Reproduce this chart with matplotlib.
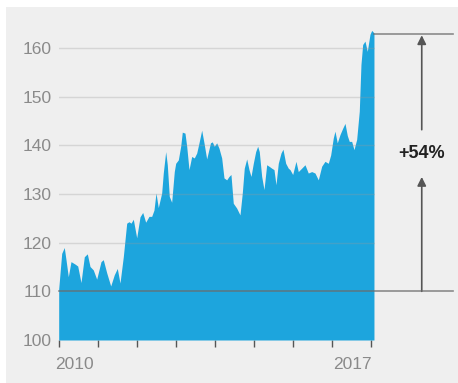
import matplotlib
matplotlib.use("Agg")
import matplotlib.pyplot as plt
from matplotlib.patches import Rectangle

plt.rcParams['font.family'] = ['Liberation Sans', 'DejaVu Sans']

# ---- data (decimal years, index values) ----
years = [2010.000, 2010.077, 2010.143, 2010.187, 2010.246, 2010.315, 2010.418, 2010.487,
         2010.571, 2010.656, 2010.733, 2010.802, 2010.886, 2010.973, 2011.084, 2011.142,
         2011.230, 2011.332, 2011.424, 2011.501, 2011.570, 2011.655, 2011.742, 2011.801,
         2011.852, 2011.911, 2011.998, 2012.083, 2012.152, 2012.228, 2012.313, 2012.382,
         2012.441, 2012.492, 2012.551, 2012.638, 2012.679, 2012.741, 2012.782, 2012.833,
         2012.894, 2012.961, 2012.997, 2013.064, 2013.125, 2013.166, 2013.235, 2013.279,
         2013.338, 2013.407, 2013.473, 2013.535, 2013.594, 2013.663, 2013.722, 2013.791,
         2013.888, 2013.934, 2013.986, 2014.047, 2014.106, 2014.175, 2014.234, 2014.303,
         2014.362, 2014.413, 2014.472, 2014.559, 2014.644, 2014.703, 2014.754, 2014.816,
         2014.875, 2014.926, 2014.985, 2015.046, 2015.097, 2015.138, 2015.200, 2015.259,
         2015.328, 2015.387, 2015.456, 2015.515, 2015.566, 2015.625, 2015.694, 2015.745,
         2015.815, 2015.881, 2015.925, 2015.994, 2016.078, 2016.137, 2016.224, 2016.309,
         2016.393, 2016.481, 2016.565, 2016.650, 2016.737, 2016.821, 2016.906, 2016.967,
         2017.034, 2017.077, 2017.136, 2017.206, 2017.275, 2017.334, 2017.393, 2017.444,
         2017.505, 2017.564, 2017.633, 2017.700, 2017.743, 2017.787, 2017.846, 2017.905,
         2017.974, 2018.018, 2018.076]
values = [110.5, 117.8, 119.0, 116.5, 113.0, 116.1, 115.6, 115.2,
          111.8, 117.1, 117.7, 115.1, 114.4, 112.5, 116.1, 116.5,
          113.8, 111.1, 113.4, 114.7, 111.7, 117.1, 124.0, 124.3,
          124.0, 124.8, 121.0, 125.3, 126.2, 124.2, 125.4, 125.4,
          126.7, 130.2, 127.2, 130.2, 134.3, 138.7, 136.0, 129.5,
          128.3, 134.6, 136.3, 137.0, 139.8, 142.7, 142.5, 139.8,
          135.0, 137.7, 137.4, 138.4, 140.5, 143.1, 140.5, 137.2,
          140.5, 140.7, 139.8, 140.5, 139.4, 137.4, 133.3, 132.9,
          133.6, 134.0, 128.1, 127.1, 125.7, 130.2, 135.3, 137.2,
          135.0, 133.6, 136.3, 138.7, 139.8, 138.7, 133.6, 130.9,
          136.0, 135.7, 135.3, 135.0, 131.9, 136.3, 138.4, 139.2,
          136.3, 135.3, 135.0, 134.0, 136.7, 134.6, 135.3, 136.0,
          134.3, 134.6, 134.3, 132.9, 135.7, 136.7, 136.3, 138.0,
          141.5, 142.9, 140.5, 142.2, 143.5, 144.5, 142.0, 140.8,
          140.8, 139.1, 141.2, 147.0, 156.6, 160.7, 161.4, 159.3,
          162.8, 163.6, 163.1]

y_ticks = [100, 110, 120, 130, 140, 150, 160]
x_tick_years = list(range(2010, 2019))
x_labels = ["2010", "2017"]
x_label_pos = [2010.40, 2017.53]
base_level = 110
top_level = 162.8
change_label = "+54%"

BLUE = '#1da5dd'
BG = '#efefef'

W, H = 458, 383
fig = plt.figure(figsize=(W / 100, H / 100), dpi=100)
fig.patch.set_facecolor('white')
fig.patches.append(Rectangle((6 / W, 0), 1, (H - 7) / H, transform=fig.transFigure,
                             facecolor=BG, edgecolor='none', zorder=-10))

ax = fig.add_axes([58.7 / W, 43 / H, (374.9 - 58.7) / W, (340 - 23.6) / H])
ax.patch.set_visible(False)
ax.set_xlim(2010, 2018.1)
ax.set_ylim(100, 165)

ax.fill_between(years, 100, values, color=BLUE, lw=0, zorder=2)

for v in y_ticks[2:]:
    ax.axhline(v, color='#999999', alpha=0.3, lw=1, zorder=3)

ax.plot([2010, 2020.1], [base_level, base_level], color='#6a6a6a', alpha=0.75,
        lw=1.2, clip_on=False, zorder=4)
ax.plot([years[-1], 2020.1], [top_level, top_level], color='#6a6a6a', alpha=0.75,
        lw=1.2, clip_on=False, zorder=4)

arrow_x = 2019.30
ap = dict(arrowstyle='-|>', color='#555555', lw=1.2, mutation_scale=13,
          shrinkA=0, shrinkB=0)
ax.annotate('', xy=(arrow_x, top_level - 0.2), xytext=(arrow_x, 143.2),
            arrowprops=ap, annotation_clip=False)
ax.annotate('', xy=(arrow_x, 133.5), xytext=(arrow_x, base_level),
            arrowprops=ap, annotation_clip=False)
ax.text(arrow_x, 138.4, change_label, ha='center', va='center', fontsize=13,
        fontweight='bold', color='#222222', clip_on=False)

for s in ax.spines.values():
    s.set_visible(False)

ax.set_yticks(y_ticks)
ax.set_yticklabels([str(v) for v in y_ticks])
ax.tick_params(axis='y', length=0, pad=5, labelsize=12.5, labelcolor='#8a8a8a')
ax.set_xticks(x_tick_years)
ax.set_xticklabels([])
ax.tick_params(axis='x', length=5, width=1, color='#555555', direction='out')

for lab, pos in zip(x_labels, x_label_pos):
    ax.text(pos, -0.079, lab, transform=ax.get_xaxis_transform(), ha='center',
            va='center', fontsize=12.5, color='#8a8a8a')

fig.savefig('out.png', dpi=100, facecolor=fig.get_facecolor())
